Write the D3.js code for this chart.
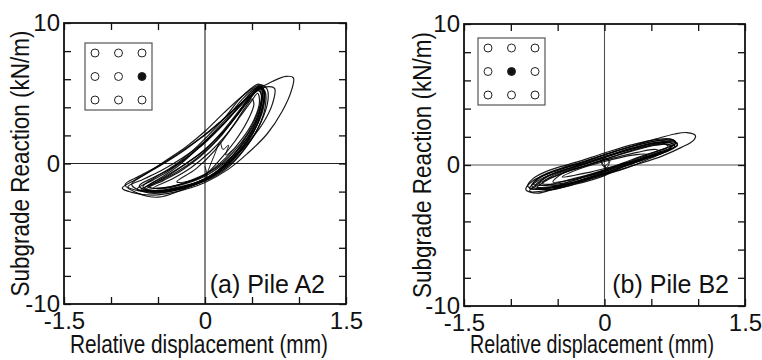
<!DOCTYPE html>
<html>
<head>
<meta charset="utf-8">
<script src="https://cdn.jsdelivr.net/npm/d3@7"></script>
<style>
  body { margin: 0; background: #fff; }
  text { font-family: "Liberation Sans", Arial, sans-serif; fill: #111; }
</style>
</head>
<body>
<svg id="chart" width="762" height="360"></svg>
<script>
// tick values / labels (shared by both panels)
var xTicks = [-1.5, -1, -0.5, 0, 0.5, 1, 1.5];
var xTickLabels = {"-1.5": "-1.5", "0": "0", "1.5": "1.5"};
var yTicks = [-10, -8, -6, -4, -2, 0, 2, 4, 6, 8, 10];
var yTickLabels = {"-10": "-10", "0": "0", "10": "10"};

var xTitle = "Relative displacement (mm)";
var yTitle = "Subgrade Reaction (kN/m)";

// pile layout inset: 3x3 group, [col,row] of the highlighted pile
var pileA2 = [2, 1];
var pileB2 = [1, 1];

// hysteresis loops, [displacement mm, reaction kN/m]
var loopsA = [
  [[-0.88,-1.75],[-0.74,-1.15],[-0.5,-0.25],[-0.25,0.8],[-0.05,1.8],[0.15,2.9],[0.35,4.1],[0.55,5.2],[0.72,5.85],[0.86,6.2],[0.94,6.1],[0.92,5.2],[0.82,3.7],[0.66,2.1],[0.45,0.7],[0.25,-0.4],[0.0,-1.35],[-0.3,-2.0],[-0.55,-2.25],[-0.78,-2.05]],
  [[-0.85,-1.5],[-0.7,-0.9],[-0.45,0.0],[-0.2,1.1],[0.05,2.3],[0.3,3.8],[0.5,4.9],[0.65,5.45],[0.74,5.35],[0.72,4.3],[0.62,2.9],[0.45,1.4],[0.25,0.0],[0.0,-1.1],[-0.25,-1.9],[-0.5,-2.4],[-0.72,-2.1]],
  [[-0.66,-1.65],[-0.52,-0.95],[-0.34,-0.2],[-0.16,0.75],[0.02,1.9],[0.19,3.1],[0.37,4.6],[0.5,5.4],[0.57,5.65],[0.62,5.3],[0.62,4.3],[0.56,2.9],[0.42,1.3],[0.2,-0.4],[-0.02,-1.2],[-0.34,-1.75],[-0.58,-1.95]],
  [[-0.64,-1.75],[-0.48,-1.05],[-0.3,-0.25],[-0.12,0.8],[0.06,2.0],[0.24,3.3],[0.4,4.6],[0.52,5.3],[0.6,5.5],[0.63,5.0],[0.6,3.8],[0.5,2.3],[0.33,0.8],[0.12,-0.6],[-0.1,-1.4],[-0.38,-1.85],[-0.58,-1.9]],
  [[-0.7,-1.6],[-0.55,-1.0],[-0.36,-0.35],[-0.18,0.5],[0.0,1.5],[0.2,2.8],[0.38,4.2],[0.5,5.1],[0.58,5.5],[0.64,5.1],[0.64,4.0],[0.57,2.6],[0.43,1.1],[0.24,-0.3],[0.0,-1.25],[-0.3,-1.8],[-0.6,-1.95]],
  [[-0.6,-1.6],[-0.42,-0.9],[-0.2,0.0],[0.0,1.0],[0.2,2.3],[0.35,3.5],[0.48,4.6],[0.56,5.2],[0.6,4.9],[0.58,3.8],[0.5,2.4],[0.38,1.2],[0.2,0.0],[0.0,-0.9],[-0.3,-1.6],[-0.5,-1.8]],
  [[-0.82,-1.65],[-0.65,-1.1],[-0.45,-0.45],[-0.25,0.35],[-0.05,1.3],[0.15,2.5],[0.35,3.9],[0.5,4.9],[0.58,5.4],[0.63,5.1],[0.62,3.9],[0.52,2.3],[0.35,0.8],[0.12,-0.6],[-0.15,-1.5],[-0.45,-2.05],[-0.7,-1.95]],
  [[-0.62,-1.8],[-0.44,-1.2],[-0.25,-0.5],[-0.05,0.5],[0.15,1.8],[0.32,3.3],[0.45,4.5],[0.55,5.3],[0.6,5.35],[0.61,4.6],[0.55,3.2],[0.42,1.7],[0.25,0.2],[0.05,-0.9],[-0.2,-1.6],[-0.45,-1.95]],
  [[-0.3,-1.3],[-0.1,-0.4],[0.1,0.9],[0.28,2.5],[0.42,3.9],[0.5,4.6],[0.52,4.2],[0.45,3.0],[0.32,1.6],[0.15,0.2],[0.0,-0.8],[-0.2,-1.3]],
  [[-0.6,-1.7],[-0.4,-0.9],[-0.2,0.0],[0.0,1.0],[0.2,2.4],[0.38,3.9],[0.5,4.9],[0.57,5.3],[0.6,4.8],[0.56,3.6],[0.46,2.2],[0.3,0.8],[0.1,-0.4],[-0.15,-1.2],[-0.4,-1.7]],
  [[-0.55,-1.75],[-0.35,-1.1],[-0.15,-0.3],[0.05,0.8],[0.22,2.0],[0.38,3.4],[0.5,4.5],[0.56,5.0],[0.58,4.4],[0.52,3.1],[0.4,1.8],[0.22,0.4],[0.0,-0.8],[-0.3,-1.55]],
  [[-0.68,-1.85],[-0.5,-1.3],[-0.3,-0.6],[-0.1,0.3],[0.1,1.5],[0.28,2.9],[0.44,4.3],[0.55,5.2],[0.6,5.45],[0.63,4.9],[0.6,3.6],[0.5,2.0],[0.34,0.6],[0.12,-0.7],[-0.15,-1.5],[-0.45,-1.95]],
  [[-0.78,-1.5],[-0.62,-0.7],[-0.42,0.2],[-0.2,1.2],[0.0,2.3],[0.2,3.6],[0.38,4.7],[0.52,5.4],[0.6,5.6],[0.66,5.3],[0.67,4.5],[0.6,3.0],[0.46,1.4],[0.26,-0.1],[0.0,-1.2],[-0.3,-1.9],[-0.6,-2.1]],
  [[-0.72,-1.8],[-0.56,-1.2],[-0.38,-0.5],[-0.18,0.5],[0.02,1.6],[0.22,3.0],[0.4,4.4],[0.52,5.2],[0.58,5.4],[0.61,5.0],[0.58,3.6],[0.48,2.0],[0.3,0.4],[0.08,-0.9],[-0.2,-1.7],[-0.5,-2.0]]
];
var startA = [[0.0,-0.2],[0.02,-0.9],[0.0,-1.2],[0.04,-0.4],[0.1,0.6],[0.16,1.5],[0.19,1.0],[0.25,1.3],[0.22,0.6],[0.3,1.0]];

var loopsB = [
  [[-0.84,-1.75],[-0.76,-1.1],[-0.55,-0.5],[-0.25,0.15],[0.0,0.72],[0.3,1.35],[0.55,1.85],[0.75,2.2],[0.88,2.3],[0.97,2.1],[0.95,1.75],[0.82,1.25],[0.62,0.65],[0.35,0.05],[0.1,-0.45],[-0.2,-1.0],[-0.5,-1.6],[-0.72,-2.0]],
  [[-0.78,-1.45],[-0.7,-0.95],[-0.55,-0.45],[-0.26,0.12],[0.0,0.71],[0.28,1.3],[0.55,1.7],[0.7,1.75],[0.78,1.5],[0.72,1.15],[0.55,0.65],[0.28,-0.1],[0.0,-0.7],[-0.26,-1.18],[-0.55,-1.6],[-0.7,-1.7]],
  [[-0.74,-1.5],[-0.66,-1.0],[-0.5,-0.5],[-0.25,0.0],[0.0,0.55],[0.3,1.15],[0.55,1.55],[0.7,1.6],[0.75,1.35],[0.65,0.95],[0.45,0.45],[0.2,-0.1],[-0.05,-0.65],[-0.3,-1.15],[-0.55,-1.55]],
  [[-0.7,-1.35],[-0.6,-0.8],[-0.4,-0.3],[-0.15,0.25],[0.1,0.8],[0.35,1.3],[0.6,1.6],[0.72,1.5],[0.7,1.2],[0.55,0.85],[0.3,0.25],[0.05,-0.35],[-0.2,-0.95],[-0.5,-1.45]],
  [[-0.72,-1.6],[-0.62,-1.1],[-0.45,-0.6],[-0.2,-0.05],[0.05,0.5],[0.3,1.05],[0.55,1.45],[0.68,1.45],[0.7,1.15],[0.55,0.75],[0.3,0.1],[0.05,-0.5],[-0.25,-1.1],[-0.5,-1.55]],
  [[-0.66,-1.3],[-0.55,-0.75],[-0.32,-0.2],[-0.05,0.4],[0.2,0.95],[0.45,1.35],[0.62,1.55],[0.68,1.3],[0.55,0.95],[0.35,0.45],[0.1,-0.15],[-0.2,-0.8],[-0.45,-1.3]],
  [[-0.55,-1.2],[-0.45,-0.6],[-0.2,-0.05],[0.1,0.5],[0.35,0.9],[0.55,1.1],[0.6,0.9],[0.45,0.55],[0.2,0.05],[-0.05,-0.5],[-0.35,-1.05]],
  [[-0.45,-0.85],[-0.3,-0.35],[0.0,0.25],[0.3,0.7],[0.45,0.75],[0.4,0.45],[0.15,0.0],[-0.15,-0.5]],
  [[-0.8,-1.65],[-0.72,-1.15],[-0.55,-0.6],[-0.3,-0.05],[0.0,0.6],[0.3,1.2],[0.55,1.6],[0.72,1.65],[0.78,1.4],[0.68,1.0],[0.45,0.5],[0.2,-0.05],[-0.1,-0.65],[-0.4,-1.25],[-0.65,-1.7]],
  [[-0.76,-1.35],[-0.68,-0.8],[-0.45,-0.2],[-0.2,0.3],[0.05,0.85],[0.35,1.4],[0.58,1.75],[0.72,1.8],[0.76,1.55],[0.66,1.2],[0.45,0.75],[0.2,0.15],[-0.05,-0.45],[-0.35,-1.0],[-0.6,-1.4]],
  [[-0.8,-1.85],[-0.7,-1.3],[-0.5,-0.7],[-0.25,-0.15],[0.0,0.4],[0.3,1.0],[0.55,1.4],[0.7,1.45],[0.7,1.15],[0.5,0.6],[0.25,0.0],[0.0,-0.6],[-0.3,-1.3],[-0.6,-1.8]],
  [[-0.82,-1.5],[-0.76,-0.95],[-0.6,-0.4],[-0.3,0.2],[0.0,0.85],[0.3,1.45],[0.55,1.8],[0.7,1.85],[0.76,1.6],[0.7,1.2],[0.5,0.7],[0.25,0.05],[0.0,-0.75],[-0.3,-1.35],[-0.6,-1.75]]
];
var startB = [[0.0,0.0],[0.02,-0.3],[-0.03,0.1],[0.0,0.55],[0.05,0.2],[0.02,-0.2],[-0.04,0.4],[0.06,0.3],[0.0,-0.1]];

var panels = [
  {loops: loopsA, start: startA, pile: pileA2, label: "(a) Pile A2", zero: "#222",
   left: 64, right: 346, top: 23, bottom: 304,
   inset: {x: 21, y: 20}, xTitleX: 199, xTitleLen: 258, yTitleX: 29, labelX: 325},
  {loops: loopsB, start: startB, pile: pileB2, label: "(b) Pile B2", zero: "#555",
   left: 464, right: 745, top: 24, bottom: 306,
   inset: {x: 14, y: 14}, xTitleX: 592, xTitleLen: 244, yTitleX: 431, labelX: 729}
];

var svg = d3.select("#chart");
svg.append("rect").attr("width", 762).attr("height", 360).attr("fill", "#fff");

panels.forEach(function(p) {
  var x = d3.scaleLinear().domain([-1.5, 1.5]).range([p.left, p.right]),
      y = d3.scaleLinear().domain([-10, 10]).range([p.bottom, p.top]);

  var g = svg.append("g");

  // zero lines
  g.append("line")
      .attr("x1", x(0)).attr("x2", x(0))
      .attr("y1", y(-10)).attr("y2", y(10))
      .attr("stroke", p.zero).attr("stroke-width", 1.1);
  g.append("line")
      .attr("x1", x(-1.5)).attr("x2", x(1.5))
      .attr("y1", y(0)).attr("y2", y(0))
      .attr("stroke", p.zero).attr("stroke-width", 1.1);

  // loops
  var line = d3.line()
      .curve(d3.curveCatmullRomClosed.alpha(0.5))
      .x(function(d) { return x(d[0]); })
      .y(function(d) { return y(d[1]); });
  var open = d3.line()
      .curve(d3.curveCatmullRom.alpha(0.5))
      .x(function(d) { return x(d[0]); })
      .y(function(d) { return y(d[1]); });

  g.selectAll(".loop")
    .data(p.loops)
    .enter()
      .append("path")
        .attr("class", "loop")
        .attr("d", line)
        .attr("fill", "none")
        .attr("stroke", "#000")
        .attr("stroke-opacity", 0.9)
        .attr("stroke-width", 1.2);
  g.append("path")
      .attr("d", open(p.start))
      .attr("fill", "none")
      .attr("stroke", "#000")
      .attr("stroke-opacity", 0.9)
      .attr("stroke-width", 1);

  // axes, ticks inside on all four sides
  var fmtX = function(d) { return xTickLabels[String(d)] || ""; },
      fmtY = function(d) { return yTickLabels[String(d)] || ""; };

  g.append("g")
      .attr("transform", "translate(0," + p.bottom + ")")
      .call(d3.axisBottom(x).tickValues(xTicks).tickSizeInner(-7).tickSizeOuter(0)
              .tickPadding(8).tickFormat(fmtX));
  g.append("g")
      .attr("transform", "translate(" + p.left + ",0)")
      .call(d3.axisLeft(y).tickValues(yTicks).tickSizeInner(-7).tickSizeOuter(0)
              .tickPadding(4).tickFormat(fmtY));
  g.append("g")
      .attr("transform", "translate(0," + p.top + ")")
      .call(d3.axisTop(x).tickValues(xTicks).tickSizeInner(-7).tickSizeOuter(0).tickFormat(""));
  g.append("g")
      .attr("transform", "translate(" + p.right + ",0)")
      .call(d3.axisRight(y).tickValues(yTicks).tickSizeInner(-7).tickSizeOuter(0).tickFormat(""));

  g.selectAll(".domain").remove();
  g.selectAll(".tick line").attr("stroke", "#111").attr("stroke-width", 1.3);
  g.selectAll(".tick text")
      .style("font-size", "24px")
      .style("font-family", "'Liberation Sans', Arial, sans-serif")
      .attr("fill", "#111");

  // frame
  g.append("rect")
      .attr("x", p.left).attr("y", p.top)
      .attr("width", p.right - p.left).attr("height", p.bottom - p.top)
      .attr("fill", "none").attr("stroke", "#111").attr("stroke-width", 1.8);

  // pile inset
  var ins = g.append("g")
      .attr("transform", "translate(" + (p.left + p.inset.x) + "," + (p.top + p.inset.y) + ")");
  ins.append("rect")
      .attr("width", 67).attr("height", 67)
      .attr("fill", "#fff").attr("stroke", "#555").attr("stroke-width", 1.2);
  var pos = d3.scalePoint().domain([0, 1, 2]).range([10, 57]);
  var cells = [];
  [0, 1, 2].forEach(function(r) { [0, 1, 2].forEach(function(c) { cells.push([c, r]); }); });
  ins.selectAll("circle")
    .data(cells)
    .enter()
      .append("circle")
        .attr("cx", function(d) { return pos(d[0]); })
        .attr("cy", function(d) { return pos(d[1]); })
        .attr("r", 4)
        .attr("stroke", "#222").attr("stroke-width", 1)
        .attr("fill", function(d) { return (d[0] == p.pile[0] && d[1] == p.pile[1]) ? "#111" : "#fff"; });

  // titles
  g.append("text")
      .attr("x", p.xTitleX).attr("y", 353)
      .attr("text-anchor", "middle")
      .attr("textLength", p.xTitleLen).attr("lengthAdjust", "spacingAndGlyphs")
      .style("font-size", "25px")
      .text(xTitle);
  g.append("text")
      .attr("transform", "translate(" + p.yTitleX + "," + ((p.top + p.bottom) / 2) + ") rotate(-90)")
      .attr("text-anchor", "middle")
      .attr("textLength", 266).attr("lengthAdjust", "spacingAndGlyphs")
      .style("font-size", "25px")
      .text(yTitle);

  g.append("text")
      .attr("x", p.labelX).attr("y", 293)
      .attr("text-anchor", "end")
      .style("font-size", "25px")
      .text(p.label);
});
</script>
</body>
</html>
